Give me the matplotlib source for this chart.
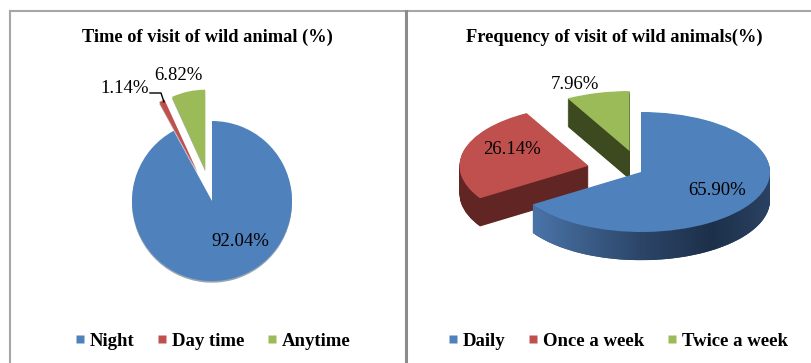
import numpy as np
import matplotlib
matplotlib.use('Agg')
import matplotlib.pyplot as plt
from matplotlib.lines import Line2D
from matplotlib.patches import Polygon
from matplotlib.colors import LinearSegmentedColormap

# ---- data ----
time_labels = ['Night', 'Day time', 'Anytime']
time_values = [92.04, 1.14, 6.82]
freq_labels = ['Daily', 'Once a week', 'Twice a week']
freq_values = [65.90, 26.14, 7.96]
titles = ['Time of visit of wild animal (%)', 'Frequency of visit of wild animals(%)']

colors = ['#4f81bd', '#c0504d', '#9bbb59']
side_colors = ['#2d4a6f', '#612624', '#3d4a1f']

W, H = 811, 363
fig = plt.figure(figsize=(W / 100, H / 100), dpi=100)
fig.patch.set_facecolor('white')
SERIF = ['Liberation Serif', 'DejaVu Serif']


def px_axes(left, bottom, right, top):
    return fig.add_axes([left / W, bottom / H, (right - left) / W, (top - bottom) / H])


def fmt(v):
    return f'{v:.2f}%'


label_font = dict(family=SERIF, size=13.5, color='black', ha='center', va='center')

# ---- left pie ----
L0, B0, R0, T0 = 15, 45, 400, 325
axL = px_axes(L0, B0, R0, T0)
cx, cy, r = 212, H - 201, 80
axL.pie(time_values, colors=colors, startangle=90, counterclock=False,
        explode=[0, 0.4, 0.4], wedgeprops=dict(linewidth=0),
        shadow=dict(ox=0.0, oy=-0.015, shade=0.45))
axL.set_aspect('auto')
axL.set_xlim(-(cx - L0) / r, (R0 - cx) / r)
axL.set_ylim(-(cy - B0) / r, (T0 - cy) / r)
axL.axis('off')
axL.text(0.35, -0.51, fmt(time_values[0]), **label_font)
axL.text(-1.09, 1.41, fmt(time_values[1]), **label_font)
axL.text(-0.42, 1.575, fmt(time_values[2]), **label_font)
axL.plot([-0.775, -0.6375, -0.60], [1.35, 1.35, 1.2375], color='black', lw=1.0)

# ---- right pie (pseudo 3-D) ----
L1, B1, R1, T1 = 410, 45, 806, 325
axR = px_axes(L1, B1, R1, T1)
rcx, rcy, rx, ry = 641, H - 172, 129, 60
depth = 0.47
expl = [0, 0.42, 0.36]
N = 40
for k in range(N, 0, -1):
    axR.pie(freq_values, colors=side_colors, startangle=90, counterclock=False,
            explode=expl, center=(0, -depth * k / N), wedgeprops=dict(linewidth=0))

# gradient on the front wall of the big slice
a0 = np.deg2rad(90 - 360 * freq_values[0] / sum(freq_values))
t = np.linspace(a0, 0, 120)
top = np.c_[np.cos(t), np.sin(t)]
bot = np.c_[np.cos(t[::-1]), np.sin(t[::-1]) - depth]
poly = Polygon(np.vstack([top, bot]), closed=True, transform=axR.transData,
               facecolor='none', edgecolor='none')
axR.add_patch(poly)
cmap = LinearSegmentedColormap.from_list(
    'side', [(0, '#4a74a8'), (0.45, '#2c4669'), (0.75, '#1d304a'), (1.0, '#2a4262')])
grad = np.linspace(0, 1, 256)[None, :]
im = axR.imshow(grad, cmap=cmap, extent=[np.cos(a0), 1.0, -1 - depth, 0.1],
                aspect='auto', zorder=1, interpolation='bilinear')
im.set_clip_path(poly)

axR.pie(freq_values, colors=colors, startangle=90, counterclock=False,
        explode=expl, wedgeprops=dict(linewidth=0))
axR.set_aspect('auto')
axR.set_xlim(-(rcx - L1) / rx, (R1 - rcx) / rx)
axR.set_ylim(-(rcy - B1) / ry, (T1 - rcy) / ry)
axR.axis('off')
axR.text(0.587, -0.31, fmt(freq_values[0]), **label_font)
axR.text(-1.0, 0.38, fmt(freq_values[1]), **label_font)
axR.text(-0.515, 1.46, fmt(freq_values[2]), **label_font)

# ---- titles ----
fig.text(207.5 / W, 1 - 37 / H, titles[0], family=SERIF, weight='bold', size=13.2,
         ha='center', va='center')
fig.text(614 / W, 1 - 37 / H, titles[1], family=SERIF, weight='bold', size=13.2,
         ha='center', va='center')


# ---- legends ----
def add_legend(labels, xc):
    handles = [Line2D([], [], marker='s', linestyle='none', markersize=5.8,
                      markerfacecolor=c, markeredgecolor='none') for c in colors]
    fig.legend(handles, labels, loc='center', bbox_to_anchor=(xc / W, 22 / H), ncol=3,
               frameon=False, prop=dict(family=SERIF, weight='bold', size=13.5),
               handlelength=0.5, handletextpad=0.3, columnspacing=1.2,
               borderpad=0, borderaxespad=0)


add_legend(time_labels, 213)
add_legend(freq_labels, 618)

# ---- panel borders ----
fig.add_artist(Line2D([10 / W, 1], [1 - 11 / H] * 2, color='#a6a6a6', lw=1.5))
fig.add_artist(Line2D([10 / W] * 2, [0, 1 - 11 / H], color='#a6a6a6', lw=1.5))
fig.add_artist(Line2D([406.5 / W] * 2, [0, 1 - 11 / H], color='#8c8c8c', lw=2.2))

fig.savefig('out.png', dpi=100, facecolor='white')
